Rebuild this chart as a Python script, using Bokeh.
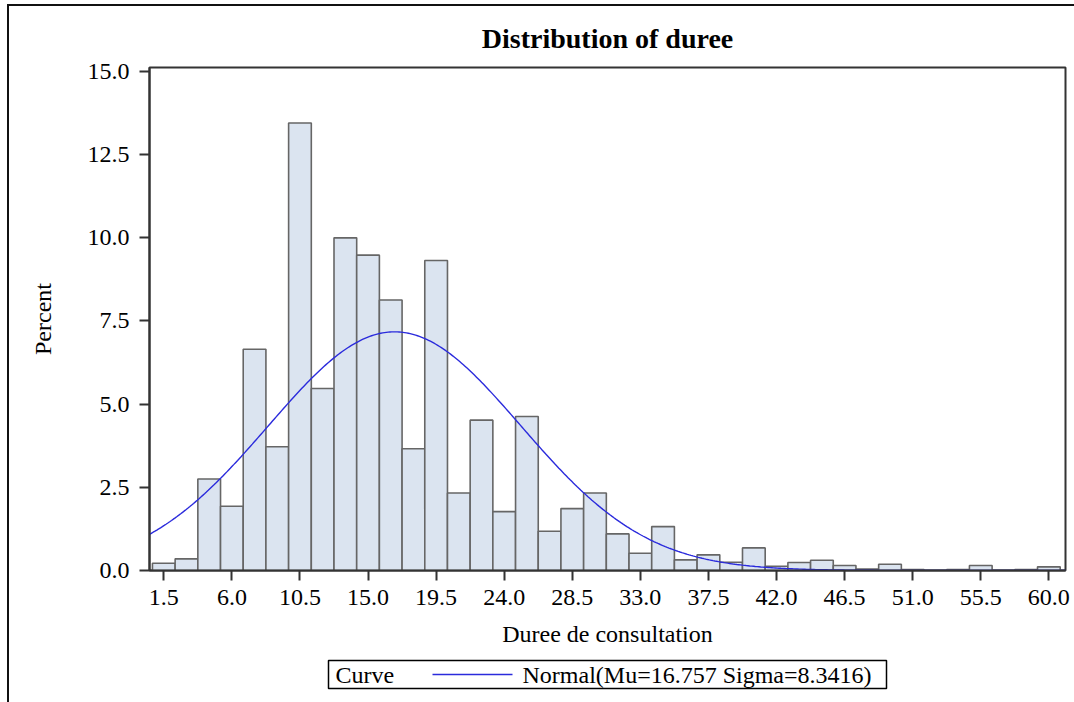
import numpy as np
from bokeh.plotting import figure
from bokeh.layouts import column
from bokeh.models import (FixedTicker, NumeralTickFormatter, Range1d, ColumnDataSource)
from bokeh.core.properties import value
from bokeh.embed import file_html
from bokeh.resources import INLINE

# ---- data ----
bin_mid = [1.5, 3.0, 4.5, 6.0, 7.5, 9.0, 10.5, 12.0, 13.5, 15.0,
           16.5, 18.0, 19.5, 21.0, 22.5, 24.0, 25.5, 27.0, 28.5, 30.0,
           31.5, 33.0, 34.5, 36.0, 37.5, 39.0, 40.5, 42.0, 43.5, 45.0,
           46.5, 48.0, 49.5, 51.0, 52.5, 54.0, 55.5, 57.0, 58.5, 60.0]
percent = [0.22, 0.35, 2.75, 1.93, 6.65, 3.72, 13.45, 5.47, 10.0, 9.48,
           8.13, 3.66, 9.32, 2.33, 4.52, 1.77, 4.63, 1.18, 1.86, 2.33,
           1.10, 0.52, 1.32, 0.32, 0.47, 0.25, 0.68, 0.13, 0.24, 0.31,
           0.15, 0.04, 0.19, 0.03, 0.0, 0.03, 0.15, 0.0, 0.03, 0.11]
bin_width = 1.5
mu = 16.757
sigma = 8.3416
x_ticks = [1.5, 6.0, 10.5, 15.0, 19.5, 24.0, 28.5, 33.0, 37.5, 42.0, 46.5, 51.0, 55.5, 60.0]
y_ticks = [0.0, 2.5, 5.0, 7.5, 10.0, 12.5, 15.0]
title_text = "Distribution of duree"
x_label = "Duree de consultation"
y_label = "Percent"
legend_title = "Curve"
legend_label = "Normal(Mu=16.757 Sigma=8.3416)"

FONT = "Liberation Serif"
CURVE_COLOR = "#2b2bdc"
x_lo, x_hi = 0.555, 61.1
W = 1065
MAIN_H = 644
LEG_H = 52
BL, BR = 140, 9          # left / right borders shared by both figures
FRAME_W = W - BL - BR

p = figure(width=W, height=MAIN_H, output_backend="svg", toolbar_location=None,
           x_range=Range1d(x_lo, x_hi), y_range=Range1d(0, 15.12),
           min_border_left=BL, min_border_right=BR, min_border_top=61,
           min_border_bottom=80, title=title_text)

p.title.text_font = FONT
p.title.text_font_size = "28px"
p.title.text_font_style = "bold"
p.title.text_color = "black"
p.title.align = "center"
p.title.standoff = 28

p.xgrid.visible = False
p.ygrid.visible = False
p.outline_line_color = "#333333"
p.outline_line_width = 2
p.background_fill_color = "white"
p.border_fill_color = "white"

src = ColumnDataSource(dict(x=bin_mid, top=percent))
p.vbar(x="x", top="top", width=bin_width, bottom=0, source=src,
       fill_color="#dbe4f0", line_color="#666666", line_width=1.6)

xs = np.linspace(x_lo, x_hi, 500)
ys = 100.0 * bin_width * np.exp(-0.5 * ((xs - mu) / sigma) ** 2) / (sigma * np.sqrt(2 * np.pi))
p.line(xs, ys, line_color=CURVE_COLOR, line_width=1.4)

for ax in (p.xaxis[0], p.yaxis[0]):
    ax.axis_line_color = "#333333"
    ax.axis_line_width = 2
    ax.major_tick_line_color = "#333333"
    ax.major_tick_line_width = 2
    ax.major_tick_out = 10
    ax.major_tick_in = 0
    ax.minor_tick_line_color = None
    ax.major_label_text_font = FONT
    ax.major_label_text_font_size = "24px"
    ax.major_label_text_color = "black"
    ax.axis_label_text_font = FONT
    ax.axis_label_text_font_size = "24px"
    ax.axis_label_text_font_style = "normal"
    ax.axis_label_text_color = "black"
    ax.formatter = NumeralTickFormatter(format="0.0")

p.xaxis[0].ticker = FixedTicker(ticks=x_ticks)
p.yaxis[0].ticker = FixedTicker(ticks=y_ticks)
p.xaxis[0].axis_label = x_label
p.yaxis[0].axis_label = y_label
p.xaxis[0].major_label_standoff = 9
p.xaxis[0].axis_label_standoff = 13
p.yaxis[0].major_label_standoff = 10
p.yaxis[0].axis_label_standoff = 29

# ---- legend drawn in a strip figure below (pixel coordinates relative to the frame) ----
box_l, box_r, box_t, box_b = 179, 737, 10, 38
row_y = (box_t + box_b) / 2
leg = figure(width=W, height=LEG_H, output_backend="svg", toolbar_location=None,
             x_range=Range1d(0, FRAME_W), y_range=Range1d(LEG_H, 0),
             x_axis_type=None, y_axis_type=None,
             min_border_left=BL, min_border_right=BR, min_border_top=0, min_border_bottom=0)
leg.xgrid.visible = False
leg.ygrid.visible = False
leg.outline_line_color = None
leg.background_fill_color = "white"
leg.border_fill_color = "white"
leg.quad(left=[box_l], right=[box_r], top=[box_t], bottom=[box_b],
         fill_color=None, line_color="black", line_width=1.5)
leg.text(x=[box_l + 7], y=[row_y], text=[legend_title], text_baseline="middle",
         text_font=value(FONT), text_font_size="24px", text_color="black")
leg.line([box_l + 104, box_l + 184], [row_y, row_y], line_color=CURVE_COLOR, line_width=1.4)
leg.text(x=[box_l + 194], y=[row_y], text=[legend_label], text_baseline="middle",
         text_font=value(FONT), text_font_size="24px", text_color="black")

layout = column(p, leg, spacing=0,
                styles={"border-left": "2px solid #111", "border-top": "2px solid #111",
                        "margin-left": "7px", "margin-top": "4px"})

open("out.html", "w").write(file_html(layout, INLINE))
